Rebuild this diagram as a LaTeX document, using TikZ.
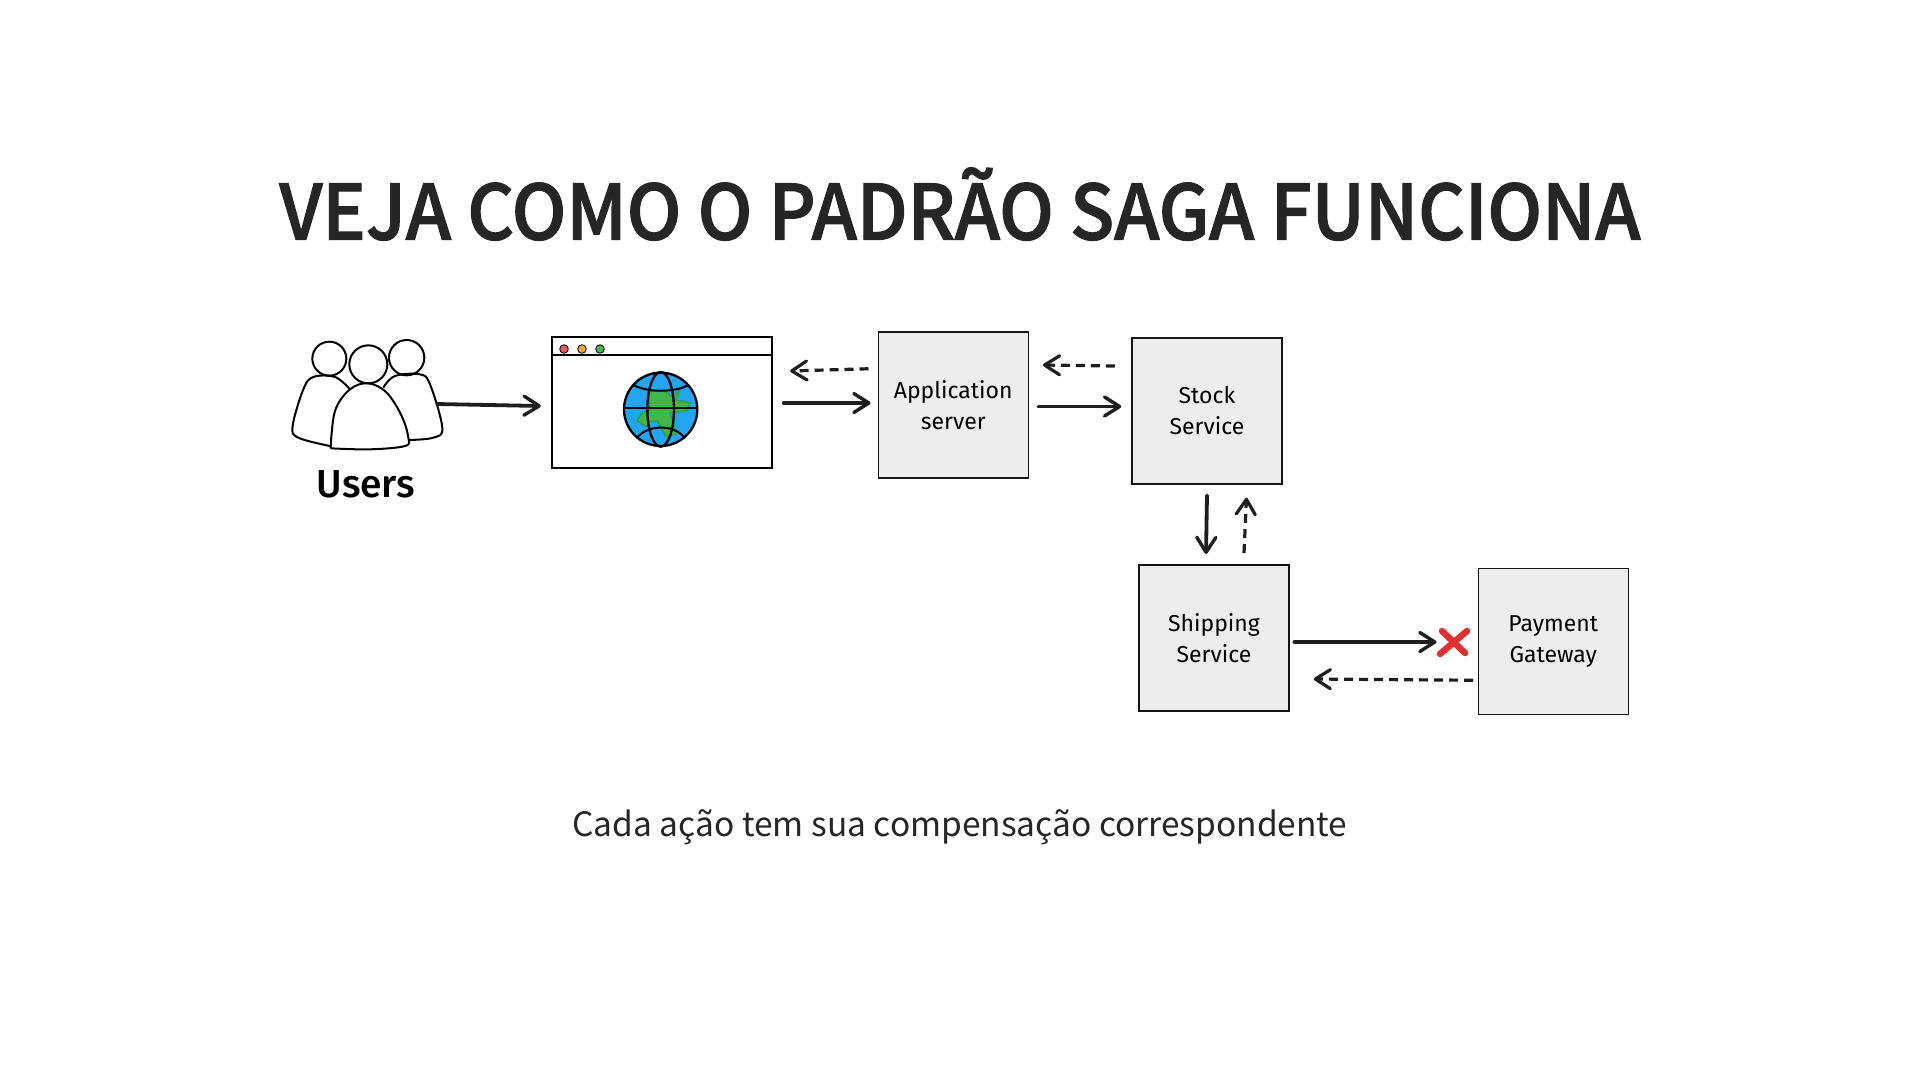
\documentclass[tikz,border=0pt]{standalone}
\usepackage{fontspec}
\usetikzlibrary{arrows.meta}
\newfontfamily\titlefont[FakeStretch=0.955,FakeBold=1.5]{Noto Sans CJK SC Medium}
\newfontfamily\subfont{Noto Sans CJK SC}
\newfontfamily\handfont{Fira Sans}
\newfontfamily\userfont{Fira Sans Medium}
\definecolor{ink}{HTML}{141414}
\definecolor{arrowink}{HTML}{1E1E1E}
\definecolor{textdark}{HTML}{262626}
\definecolor{boxfill}{HTML}{EDEDED}
\definecolor{globeblue}{HTML}{22A6F2}
\definecolor{landgreen}{HTML}{41B649}
\definecolor{landedge}{HTML}{2F9E44}
\definecolor{crossred}{HTML}{E03131}
\definecolor{dotred}{HTML}{E8596A}
\definecolor{dotorange}{HTML}{F5A623}
\tikzset{
  svc/.style={draw=ink,fill=boxfill,line width=1.5pt,minimum width=150pt,minimum height=146pt,inner sep=0pt,align=center,font=\handfont\fontsize{23}{31}\selectfont,text=black},
  flow/.style={draw=arrowink,line width=3.8pt,line cap=round,-{Straight Barb[length=15pt,width=19pt,line width=3.4pt,round]}},
  back/.style={draw=arrowink,line width=3.2pt,line cap=butt,dash pattern=on 9pt off 6pt,-{Straight Barb[length=15pt,width=19pt,line width=3.2pt,round]}},
  sketch/.style={draw=black,line width=2pt,line join=round},
}
\begin{document}
\begin{tikzpicture}[x=1pt,y=-1pt]
\useasboundingbox (0,0) rectangle (1920,1080);
\fill[white] (0,0) rectangle (1920,1080);
\node[font=\titlefont\fontsize{76}{84}\selectfont,text=textdark] (title) at (960,204) {VEJA COMO O PADRÃO SAGA FUNCIONA};
\node[font=\subfont\fontsize{33.5}{40}\selectfont,text=textdark] (subtitle) at (960,827) {Cada ação tem sua compensação correspondente};

% users icon
\node[minimum width=150pt,minimum height=108pt,inner sep=0pt] (usersicon) at (367,395) {};
\begin{scope}[shift={(270,321)},x=0.3333pt,y=-0.3333pt,sketch]
  \draw plot[smooth,tension=0.6] coordinates {(240,205) (195,168) (130,168) (100,205) (68,315) (85,350) (180,375)};
  \draw plot[smooth,tension=0.6] coordinates {(340,200) (375,165) (450,160) (480,190) (517,320) (490,350) (415,357)};
  \draw[fill=white] plot[smooth,tension=0.6] coordinates {(182,382) (195,270) (240,205) (295,187) (350,215) (395,285) (415,350) (405,375) (300,385) (182,382)};
  \draw (178,113) circle[radius=51];
  \draw (295,130) circle[radius=57];
  \draw (410,110) circle[radius=53];
\end{scope}
\node[font=\userfont\fontsize{39}{41}\selectfont,text=black] (userslabel) at (366,484) {Users};

% browser
\node[draw=black,fill=white,line width=2.4pt,minimum width=220pt,minimum height=131pt,inner sep=0pt] (browser) at (662,402.5) {};
\draw[black,line width=2.4pt] (browser.west |- 0,355) -- (browser.east |- 0,355);
\filldraw[draw=black,line width=.8pt,fill=dotred] (564,349) circle[radius=4.3];
\filldraw[draw=black,line width=.8pt,fill=dotorange] (582,349) circle[radius=4.3];
\filldraw[draw=black,line width=.8pt,fill=landgreen] (600,349) circle[radius=4.3];

% globe
\begin{scope}[shift={(600,350)},x=0.3333pt,y=-0.3333pt]
  \fill[globeblue] (182,178) circle[radius=110];
  \draw[landedge,fill=landgreen,line width=1.4pt,line join=round] (145,125) -- (195,122) -- (215,140) -- (240,120) -- (228,150) -- (270,158) -- (262,182) -- (210,188) -- (230,252) -- (198,260) -- (172,212) -- (147,216) -- (140,230) -- (110,212) -- (125,190) -- (150,180) -- cycle;
  \draw[black,line width=2.3pt] (182,178) circle[radius=110];
  \draw[black,line width=2.3pt] (182,178) ellipse[x radius=40,y radius=112];
  \draw[black,line width=2.3pt] (72,175) -- (292,175);
  \draw[black,line width=2pt] (100,105) .. controls (140,128) and (225,128) .. (265,105);
  \draw[black,line width=2pt] (110,265) .. controls (140,222) and (225,222) .. (255,265);
\end{scope}

% services
\node[svc] (app) at (953.25,404.75) {Application\\server};
\node[svc] (stock) at (1207,411) {Stock\\Service};
\node[svc] (shipping) at (1214,637.75) {Shipping\\Service};
\node[svc] (payment) at (1553.25,641.25) {Payment\\Gateway};

% connectors
\draw[flow] ([shift={(-5,9)}]usersicon.east) -- ([shift={(-10,3.5)}]browser.west);
\draw[flow] ([shift={(10.5,0.5)}]browser.east) -- ([shift={(-7,-1.75)}]app.west);
\draw[back] ([shift={(-9,-36)}]app.west) -- ([shift={(17,-31.5)}]browser.east);
\draw[flow] ([shift={(9.5,1.75)}]app.east) -- ([shift={(-10,-4.5)}]stock.west);
\draw[back] ([shift={(-16.5,-45)}]stock.west) -- ([shift={(14,-39.75)}]app.east);
\draw[flow] ([shift={(0,10.7)}]stock.south) -- ([shift={(-8,-10)}]shipping.north);
\draw[back] ([shift={(30,-11)}]shipping.north) -- ([shift={(39.5,13)}]stock.south);
\draw[flow,line width=4.6pt] ([shift={(5,4.25)}]shipping.east) -- ([shift={(-41,0.75)}]payment.west);
\draw[back] ([shift={(-4.5,39)}]payment.west) -- ([shift={(24,41.25)}]shipping.east);

% failure cross
\coordinate (fail) at (1453,642);
\draw[crossred,line width=6.5pt,line cap=round] ([shift={(-11,-11)}]fail) -- ([shift={(12,11)}]fail);
\draw[crossred,line width=6.5pt,line cap=round] ([shift={(14,-11)}]fail) -- ([shift={(-13,12)}]fail);
\end{tikzpicture}
\end{document}
